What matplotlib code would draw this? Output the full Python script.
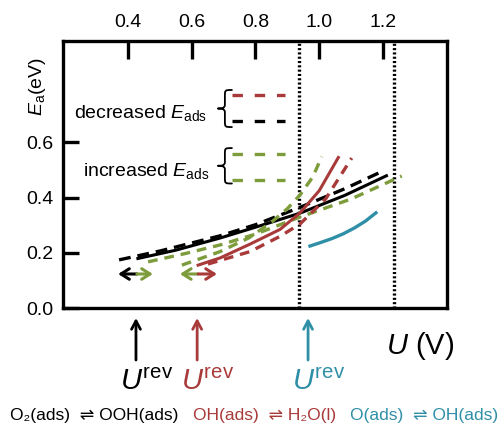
import matplotlib
matplotlib.use("Agg")
import matplotlib.pyplot as plt
from matplotlib.path import Path
from matplotlib.patches import PathPatch

plt.rcParams['font.family'] = ['Liberation Sans', 'DejaVu Sans']
plt.rcParams['mathtext.fontset'] = 'custom'
plt.rcParams['mathtext.rm'] = 'Liberation Sans'
plt.rcParams['mathtext.it'] = 'Liberation Sans:italic'
plt.rcParams['lines.scale_dashes'] = False
plt.rcParams['lines.solid_joinstyle'] = 'round'
plt.rcParams['lines.dash_joinstyle'] = 'round'

BLACK = '#000000'
RED = '#a93a3a'
GREEN = '#7d9c3b'
TEAL = '#2f8fa6'

# ---- data (U in V, Ea in eV) ----
black_solid_U = [0.431, 0.55, 0.689, 0.80, 0.94, 1.08, 1.211]
black_solid_E = [0.180, 0.210, 0.254, 0.293, 0.344, 0.408, 0.479]

black_dash_U = [0.372, 0.50, 0.689, 0.80, 0.94, 1.08, 1.196]
black_dash_E = [0.175, 0.207, 0.262, 0.302, 0.365, 0.432, 0.494]

green_shallow_U = [0.463, 0.58, 0.689, 0.80, 0.94, 1.10, 1.259]
green_shallow_E = [0.168, 0.198, 0.229, 0.268, 0.330, 0.395, 0.478]

green_steep_U = [0.569, 0.689, 0.78, 0.851, 0.90, 0.94, 0.98, 1.008]
green_steep_E = [0.156, 0.205, 0.255, 0.312, 0.360, 0.410, 0.475, 0.548]

red_solid_U = [0.62, 0.689, 0.783, 0.877, 0.94, 1.00, 1.06]
red_solid_E = [0.156, 0.182, 0.232, 0.285, 0.345, 0.425, 0.545]

red_dash_U = [0.651, 0.783, 0.877, 0.94, 1.02, 1.102]
red_dash_E = [0.160, 0.205, 0.260, 0.305, 0.395, 0.543]

teal_U = [0.971, 1.00, 1.04, 1.075, 1.11, 1.145, 1.178]
teal_E = [0.225, 0.236, 0.252, 0.269, 0.290, 0.315, 0.345]

dotted_U = [0.937, 1.234]
urev_U = [0.425, 0.617, 0.965]
urev_colors = [BLACK, RED, TEAL]

xticks = [0.4, 0.6, 0.8, 1.0, 1.2]
yticks = [0.0, 0.2, 0.4, 0.6]

reactions = ['O\u2082(ads)  \u21cc OOH(ads)', 'OH(ads)  \u21cc H\u2082O(l)', 'O(ads)  \u21cc OH(ads)']

# ---- figure ----
W, H = 501, 423
fig = plt.figure(figsize=(W / 100, H / 100), dpi=100)
ax = fig.add_axes([63 / W, 1 - 308.3 / H, (447 - 63) / W, (308.3 - 41) / H])
ax.set_xlim(0.196, 1.401)
ax.set_ylim(0, 0.966)

for s in ax.spines.values():
    s.set_linewidth(2.4)

ax.xaxis.tick_top()
ax.set_xticks(xticks)
ax.set_xticklabels(['%.1f' % v for v in xticks])
ax.set_yticks(yticks)
ax.set_yticklabels(['%.1f' % v for v in yticks])
ax.tick_params(axis='x', direction='in', length=13, width=2.4, pad=7, labelsize=14)
ax.tick_params(axis='y', direction='in', length=11.5, width=2.4, pad=7, labelsize=14)

for u in dotted_U:
    ax.plot([u, u], [0, 0.966], color='black', lw=2.4, dashes=(1.5, 1.6),
            solid_capstyle='butt', dash_capstyle='butt')

ax.plot(black_solid_U, black_solid_E, color=BLACK, lw=2.2)
ax.plot(black_dash_U, black_dash_E, color=BLACK, lw=2.4, dashes=(8.5, 5))
ax.plot(green_shallow_U, green_shallow_E, color=GREEN, lw=2.4, dashes=(7, 5))
ax.plot(green_steep_U, green_steep_E, color=GREEN, lw=2.4, dashes=(7, 5))
ax.plot(red_solid_U, red_solid_E, color=RED, lw=2.2)
ax.plot(red_dash_U, red_dash_E, color=RED, lw=2.4, dashes=(7, 5))
ax.plot(teal_U, teal_E, color=TEAL, lw=2.4)

# double arrows
def arr(x0, x1, y, c):
    ax.annotate('', xy=(x1, y), xytext=(x0, y),
                arrowprops=dict(arrowstyle='->,head_length=0.6,head_width=0.38',
                                color=c, lw=2.2, shrinkA=0, shrinkB=0))

arr(0.428, 0.369, 0.124, BLACK)
arr(0.428, 0.478, 0.124, GREEN)
arr(0.620, 0.563, 0.124, GREEN)
arr(0.620, 0.679, 0.124, RED)

# legend
ax.plot([0.726, 0.893], [0.771, 0.771], color=RED, lw=2.4, dashes=(7.5, 8.5))
ax.plot([0.726, 0.893], [0.677, 0.677], color=BLACK, lw=2.4, dashes=(7.5, 8.5))
ax.plot([0.726, 0.893], [0.558, 0.558], color=GREEN, lw=2.4, dashes=(7.5, 8.5))
ax.plot([0.726, 0.893], [0.464, 0.464], color=GREEN, lw=2.4, dashes=(7.5, 8.5))
ax.text(0.648, 0.705, 'decreased $E_{\\mathrm{ads}}$', ha='right', va='center', fontsize=14)
ax.text(0.654, 0.496, 'increased $E_{\\mathrm{ads}}$', ha='right', va='center', fontsize=14)


def brace(xc, yc, h, dx):
    verts = [(xc + dx, yc + h),
             (xc, yc + h), (xc, yc + h), (xc, yc + 0.65 * h),
             (xc, yc + 0.2 * h),
             (xc, yc + 0.03 * h), (xc - 0.4 * dx, yc), (xc - dx, yc),
             (xc - 0.4 * dx, yc), (xc, yc - 0.03 * h), (xc, yc - 0.2 * h),
             (xc, yc - 0.65 * h),
             (xc, yc - h), (xc, yc - h), (xc + dx, yc - h)]
    codes = [Path.MOVETO,
             Path.CURVE4, Path.CURVE4, Path.CURVE4,
             Path.LINETO,
             Path.CURVE4, Path.CURVE4, Path.CURVE4,
             Path.CURVE4, Path.CURVE4, Path.CURVE4,
             Path.LINETO,
             Path.CURVE4, Path.CURVE4, Path.CURVE4]
    ax.add_patch(PathPatch(Path(verts, codes), fill=False, lw=1.3, color='black',
                           capstyle='round', joinstyle='round'))

brace(0.704, 0.722, 0.067, 0.022)
brace(0.704, 0.515, 0.064, 0.022)

# U_rev arrows below
for u, c in zip(urev_U, urev_colors):
    ax.annotate('', xy=(u, -0.035), xytext=(u, -0.187), annotation_clip=False,
                arrowprops=dict(arrowstyle='->,head_length=0.6,head_width=0.32',
                                color=c, lw=2.0, shrinkA=0, shrinkB=0))
    ax.text(u + 0.033, -0.265, '$U^{\\mathrm{rev}}$', color=c, ha='center', va='center',
            fontsize=21, clip_on=False)

ax.text(1.316, -0.135, '$U$ (V)', ha='center', va='center', fontsize=21, clip_on=False)

fig.text(38 / W, 1 - 87 / H, '$E_{\\mathrm{a}}$(eV)', rotation=90, ha='center', va='center', fontsize=14)

fig.text(94 / W, 1 - 415 / H, reactions[0], color=BLACK, ha='center', va='center', fontsize=12.5)
fig.text(265 / W, 1 - 415 / H, reactions[1], color=RED, ha='center', va='center', fontsize=12.5)
fig.text(424 / W, 1 - 415 / H, reactions[2], color=TEAL, ha='center', va='center', fontsize=12.5)

fig.savefig('out.png', dpi=100)
